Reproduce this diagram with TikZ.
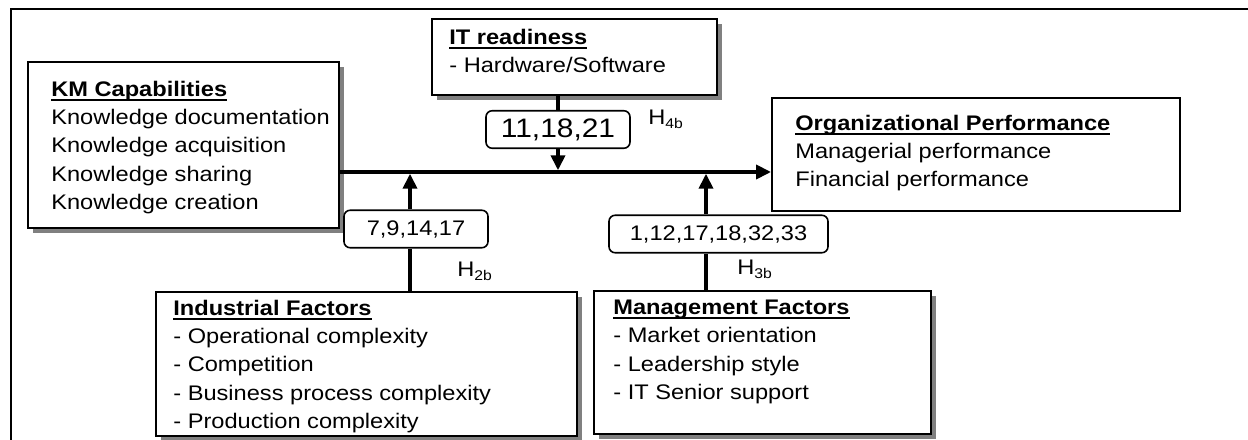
\documentclass[tikz,border=0pt]{standalone}
\usepackage{fontspec}
\setmainfont{Liberation Sans}[FakeStretch=1.12]
\usetikzlibrary{arrows.meta,shadows,positioning}

% bold heading with a low underline
\newcommand\boxtitle[1]{\setbox0=\hbox{\bfseries #1}\rlap{\rule[-2.5pt]{\wd0}{1.1pt}}\box0}

\tikzset{
  frame/.style={line width=1.1pt},
  factor/.style={draw, line width=1.1pt, fill=white, anchor=north west, inner sep=0pt,
    drop shadow={shadow xshift=3pt, shadow yshift=-3pt, fill=black!50, opacity=1}},
  result/.style={draw, line width=1.1pt, fill=white, anchor=north west, inner sep=0pt},
  items/.style={anchor=north west, align=left, inner sep=0pt, font=\fontsize{12}{16.1}\selectfont},
  refs/.style={draw, rounded corners=3.5pt, line width=0.9pt, fill=white, minimum width=2.88cm,
    minimum height=0.75cm, inner sep=0pt, font=\fontsize{12}{14}\selectfont},
  hyp/.style={anchor=base west, inner sep=0pt, font=\fontsize{12}{14}\selectfont},
  link/.style={line width=2pt},
  flow/.style={line width=2pt, -{Triangle[length=8.5pt,width=8pt]}},
}

\begin{document}
\begin{tikzpicture}[x=0.2mm, y=-0.2mm]
  \useasboundingbox (0,0) rectangle (1248,440);

  % open frame round the model
  \draw[frame] (11,446) -- (11,9) -- (1256,9);

  % KM capabilities
  \node[factor, minimum width=6.22cm, minimum height=3.32cm] (km) at (27,61) {};
  \node[items] (kmtxt) at (51,80.7) {\boxtitle{KM Capabilities}\\Knowledge documentation\\
    Knowledge acquisition\\Knowledge sharing\\Knowledge creation};

  % IT readiness
  \node[factor, minimum width=5.7cm, minimum height=1.52cm] (it) at (431,18) {};
  \node[items] (ittxt) at (449,28.7) {\boxtitle{IT readiness}\\- Hardware/Software};

  % organizational performance
  \node[result, minimum width=8.16cm, minimum height=2.26cm] (org) at (771,97) {};
  \node[items] (orgtxt) at (795,114.7) {\boxtitle{Organizational Performance}\\
    Managerial performance\\Financial performance};

  % industrial factors
  \node[factor, minimum width=8.42cm, minimum height=2.88cm] (ind) at (155,291) {};
  \node[items] (indtxt) at (173,299.7) {\boxtitle{Industrial Factors}\\- Operational complexity\\
    - Competition\\- Business process complexity\\- Production complexity};

  % management factors
  \node[factor, minimum width=6.74cm, minimum height=2.86cm] (mgt) at (593,290) {};
  \node[items] (mgttxt) at (613,299.7) {\boxtitle{Management Factors}\\- Market orientation\\
    - Leadership style\\- IT Senior support};

  % reference labels on the moderator links
  \node[refs, font=\fontsize{15.2}{17}\selectfont] (r4) at (558,129.5) {11,18,21};
  \node[refs] (r2) at (416,229) {7,9,14,17};
  \node[refs, minimum width=4.38cm] (r3) at (718.5,234) {1,12,17,18,32,33};

  \node[hyp] (h4) at (648,125) {H\textsubscript{4b}};
  \node[hyp] (h2) at (457,277) {H\textsubscript{2b}};
  \node[hyp] (h3) at (737,275) {H\textsubscript{3b}};

  % junctions on the main path
  \coordinate (j4) at (558,172);
  \coordinate (j2) at (410,172);
  \coordinate (j3) at (706,172);

  \draw[flow] (km.east |- j4) -- (org.west |- j4);

  \draw[link] (it.south -| r4) -- (r4.north);
  \draw[flow, shorten >=1pt] (r4.south) -- (j4);

  \draw[link] (ind.north -| j2) -- (r2.south -| j2);
  \draw[flow, shorten >=1pt] (r2.north -| j2) -- (j2);

  \draw[link] (mgt.north -| j3) -- (r3.south -| j3);
  \draw[flow, shorten >=1pt] (r3.north -| j3) -- (j3);
\end{tikzpicture}
\end{document}
